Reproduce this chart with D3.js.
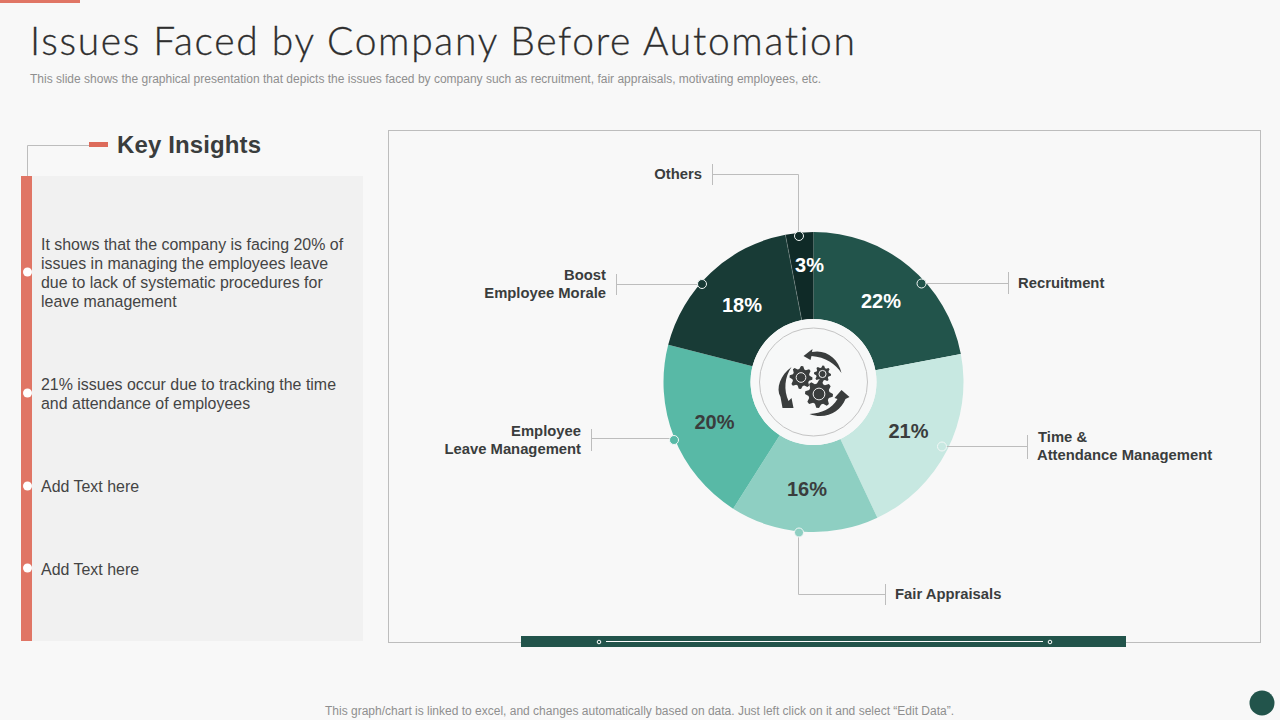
<!DOCTYPE html>
<html>
<head>
<meta charset="utf-8">
<script src="https://cdn.jsdelivr.net/npm/d3@7"></script>
<style>
html, body { margin: 0; padding: 0; background: #f8f8f8; overflow: hidden; }
text { font-family: "Liberation Sans", Arial, sans-serif; }
</style>
</head>
<body>
<script>
// chart data
const categories = ["Recruitment", "Time & Attendance Management", "Fair Appraisals", "Employee Leave Management", "Boost Employee Morale", "Others"];
const values = [22, 21, 16, 20, 18, 3];
const sliceColors = ["#22544b", "#c7e8e1", "#8ecfc2", "#58b9a6", "#183b36", "#0f2a27"];
const valueColors = ["#ffffff", "#3a3d3d", "#3a3d3d", "#3a3d3d", "#ffffff", "#ffffff"];
const labelLines = [["Recruitment"], ["Time &", "Attendance Management"], ["Fair Appraisals"], ["Employee", "Leave Management"], ["Boost", "Employee Morale"], ["Others"]];
const insights = [
  ["It shows that the company is facing 20% of", "issues in managing the employees leave", "due to lack of systematic procedures for", "leave management"],
  ["21% issues occur due to tracking the time", "and attendance of employees"],
  ["Add Text here"],
  ["Add Text here"]
];

// layout only, same order as categories
const labelPos = [[1018, 288, "start"], [1212, 442, "end"], [895, 599, "start"], [581, 436, "end"], [606, 280, "end"], [702, 179, "end"]];
const dotPos = [[921.5, 283.5], [942, 446.5], [799, 532.5], [674, 440], [702, 284], [799, 236]];
const leaderPaths = ["M921,283.5H1008.5", "M942,446.5H1027.5", "M798.5,532V594.5H885.5", "M674,438.5H591.5", "M702,284.5H616.5", "M798.5,236V174.5H712.5"];
const tickPaths = ["M1008.5,272V294", "M1027.5,435V459", "M885.5,584V605", "M591.5,429V451", "M616.5,274V295", "M712.5,164V185"];
const labelAlignLeft = [null, [1038, 1037], null, null, null, null];
const valueOffset = [[67.5, -74], [95, 56], [-6.5, 113.5], [-99, 46.5], [-71.5, -70.5], [-4, -110.5]];
const insightY = [250, 390, 492, 575];
const insightDotY = [272, 393, 486, 568];

const w = 1280, h = 720, cx = 813.5, cy = 382, outer = 150, inner = 63;
const gray = "#bdbdbd", red = "#e07565", dark = "#3a3d3d";

const svg = d3.select("body").append("svg").attr("width", w).attr("height", h).style("display", "block");
svg.append("rect").attr("width", w).attr("height", h).attr("fill", "#f8f8f8");

// top strip, title
svg.append("rect").attr("width", 80).attr("height", 3).attr("fill", red);
svg.append("text").attr("x", 30).attr("y", 55).attr("font-size", 39).attr("textLength", 825).attr("fill", "#2e2e2e")
  .attr("stroke", "#2e2e2e").attr("stroke-width", 0.3)
  .style("font-family", "Lato").style("font-weight", 300).style("font-variant-ligatures", "none")
  .text("Issues Faced by Company Before Automation");
svg.append("text").attr("x", 30).attr("y", 83).attr("font-size", 12).attr("textLength", 791).attr("fill", "#8f8f8f")
  .text("This slide shows the graphical presentation that depicts the issues faced by company such as recruitment, fair appraisals, motivating employees, etc.");

// left panel
svg.append("path").attr("d", "M27.5,176V145.5H92").attr("fill", "none").attr("stroke", gray);
svg.append("rect").attr("x", 89).attr("y", 142).attr("width", 19).attr("height", 5).attr("fill", "#dd6b5b");
svg.append("text").attr("x", 117).attr("y", 153).attr("font-size", 24).attr("font-weight", 700).attr("textLength", 144).attr("fill", dark).text("Key Insights");
svg.append("rect").attr("x", 32).attr("y", 176).attr("width", 331).attr("height", 465).attr("fill", "#f1f1f1");
svg.append("rect").attr("x", 21).attr("y", 176).attr("width", 11).attr("height", 465).attr("fill", red);

insights.forEach(function(lines, i) {
  svg.append("circle").attr("cx", 27.5).attr("cy", insightDotY[i]).attr("r", 4.5).attr("fill", "#fff");
  lines.forEach(function(line, j) {
    svg.append("text").attr("x", 41).attr("y", insightY[i] + j * 19).attr("font-size", 15.95).attr("fill", "#444").text(line);
  });
});

// frame, bottom bar
svg.append("rect").attr("x", 388.5).attr("y", 130.5).attr("width", 872).attr("height", 512).attr("fill", "none").attr("stroke", gray);
svg.append("rect").attr("x", 521).attr("y", 636).attr("width", 605).attr("height", 11).attr("fill", "#22544b");
svg.append("line").attr("x1", 606).attr("x2", 1043).attr("y1", 641.5).attr("y2", 641.5).attr("stroke", "#fff").attr("stroke-width", 1);
[599, 1050].forEach(function(x) {
  svg.append("circle").attr("cx", x).attr("cy", 642).attr("r", 1.8).attr("fill", "none").attr("stroke", "#fff");
});

// pie
const pie = d3.pie().sort(null).value(function(d) { return d; });
const arc = d3.arc().innerRadius(inner).outerRadius(outer);
const arcs = pie(values);
const g = svg.append("g").attr("transform", "translate(" + cx + "," + cy + ")");
g.selectAll("path").data(arcs).enter().append("path").attr("d", arc)
  .attr("fill", function(d, i) { return sliceColors[i]; });
// thin light seam between the last two slices
const seam = arcs[5].startAngle;
g.append("line")
  .attr("x1", Math.sin(seam) * inner).attr("y1", -Math.cos(seam) * inner)
  .attr("x2", Math.sin(seam) * outer).attr("y2", -Math.cos(seam) * outer)
  .attr("stroke", "#ffffff").attr("stroke-opacity", 0.3).attr("stroke-width", 0.7);
g.append("circle").attr("r", inner).attr("fill", "#f7f8f8");
g.append("circle").attr("r", 54).attr("fill", "none").attr("stroke", "#c4c4c4");

g.selectAll("text.val").data(arcs).enter().append("text").attr("class", "val")
  .attr("x", function(d, i) { return valueOffset[i][0]; })
  .attr("y", function(d, i) { return valueOffset[i][1]; })
  .attr("text-anchor", "middle").attr("font-size", 20).attr("font-weight", 700)
  .attr("fill", function(d, i) { return valueColors[i]; })
  .text(function(d) { return d.value + "%"; });

// leaders
svg.selectAll("path.lead").data(leaderPaths).enter().append("path").attr("class", "lead")
  .attr("d", function(d) { return d; }).attr("fill", "none").attr("stroke", gray);
svg.selectAll("path.tick").data(tickPaths).enter().append("path").attr("class", "tick")
  .attr("d", function(d) { return d; }).attr("fill", "none").attr("stroke", gray);
svg.selectAll("circle.dot").data(dotPos).enter().append("circle").attr("class", "dot")
  .attr("cx", function(d) { return d[0]; }).attr("cy", function(d) { return d[1]; }).attr("r", 4.5)
  .attr("fill", function(d, i) { return sliceColors[i]; }).attr("stroke", "#f2f7f6").attr("stroke-width", 1);

labelLines.forEach(function(lines, i) {
  const p = labelPos[i];
  lines.forEach(function(line, j) {
    const t = svg.append("text").attr("y", p[1] + j * 18).attr("font-size", 14.8).attr("font-weight", 700).attr("fill", dark).text(line);
    if (labelAlignLeft[i]) t.attr("x", labelAlignLeft[i][j]);
    else t.attr("x", p[0]).attr("text-anchor", p[2]);
  });
});

// center icon
const icon = svg.append("g").attr("transform", "translate(" + cx + "," + cy + ")").attr("fill", dark);
function gear(x, y, r, teeth) {
  const pts = [];
  const n = teeth * 4;
  for (let i = 0; i < n; i++) {
    const a = i / n * 2 * Math.PI;
    pts.push([a, (i % 4 < 2) ? r : r * 0.76]);
  }
  const hole = d3.arc().innerRadius(0).outerRadius(r * 0.42).startAngle(0).endAngle(2 * Math.PI)();
  icon.append("path").attr("transform", "translate(" + x + "," + y + ")")
    .attr("d", d3.lineRadial()(pts) + "Z");
  icon.append("path").attr("transform", "translate(" + x + "," + y + ")").attr("d", hole)
    .attr("fill", "none").attr("stroke", "#f1f1f1").attr("stroke-width", 1);
}
gear(-12.5, -4.5, 11.5, 8);
gear(9, -8, 8.5, 8);
gear(5.5, 12, 14, 8);
icon.append("path").attr("d", "M-10,-26 L-1,-33 L-1.5,-30 C12,-33 25,-24 28,-9 C22,-18 12,-25 -2,-26 L-3,-22Z");
icon.append("path").attr("d", "M-22,-15 C-33,-7 -38,6 -33,15 L-31,26 L-20,26 L-22,16 L-25,19 C-30,8 -29,-5 -22,-15Z");
icon.append("path").attr("d", "M-4,32 C8,31 18,27 24,17 L21,16 L28,8 L36,15 L32,17 C27,30 12,38 -4,32Z");

// footer
svg.append("text").attr("x", 639.5).attr("y", 715).attr("text-anchor", "middle").attr("font-size", 12).attr("textLength", 629).attr("fill", "#8f8f8f")
  .text("This graph/chart is linked to excel, and changes automatically based on data. Just left click on it and select \u201CEdit Data\u201D.");
svg.append("circle").attr("cx", 1262).attr("cy", 703).attr("r", 12.5).attr("fill", "#22544b");
</script>
</body>
</html>
